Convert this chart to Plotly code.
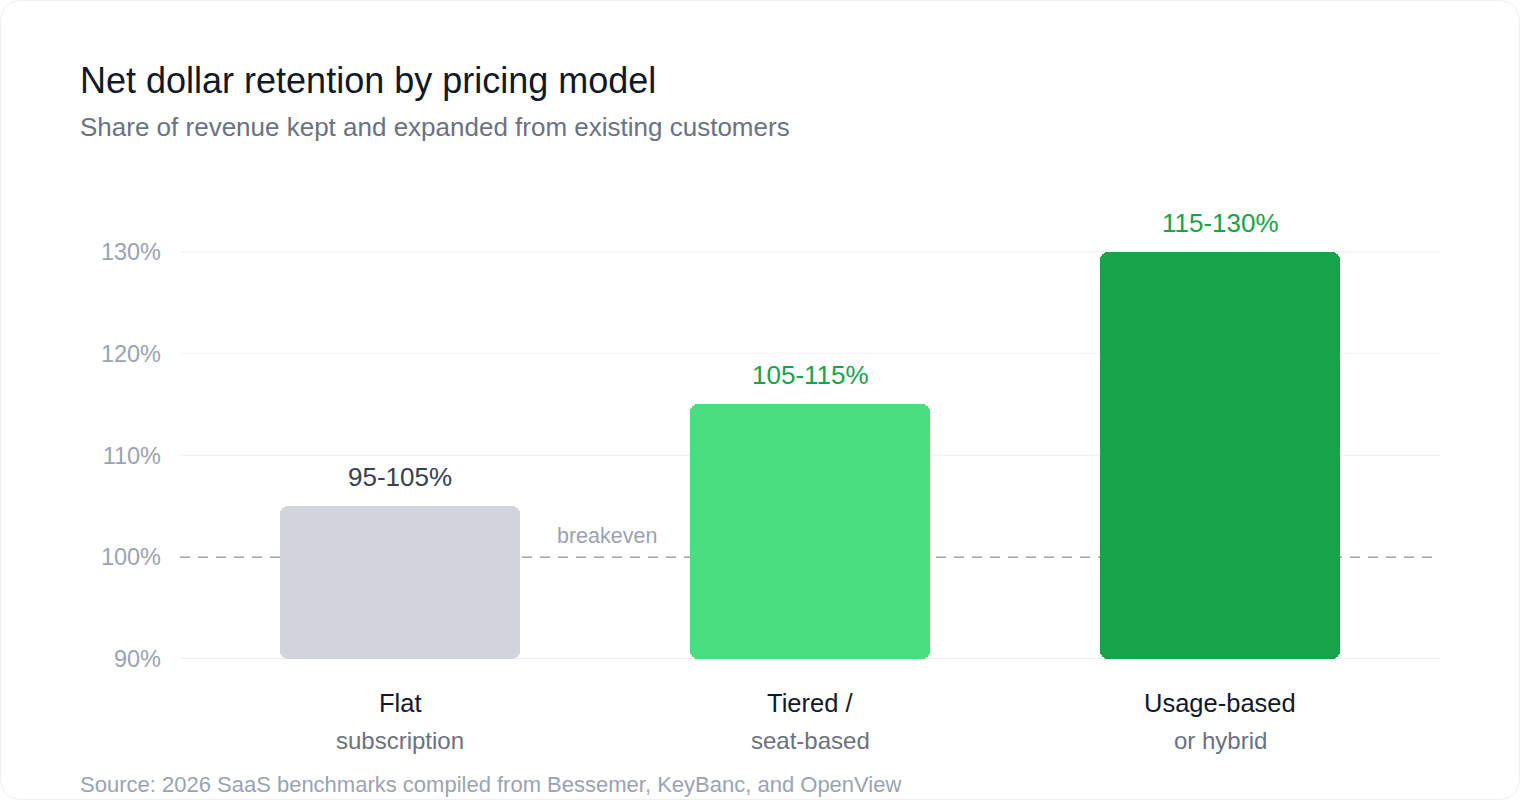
import plotly.graph_objects as go

# data
models = ["Flat", "Tiered /", "Usage-based"]
model_sub = ["subscription", "seat-based", "or hybrid"]
ndr_low = [95, 105, 115]
ndr_high = [105, 115, 130]
range_labels = ["95-105%", "105-115%", "115-130%"]
bar_colors = ["#d1d5db", "#4ade80", "#16a34a"]
label_colors = ["#374151", "#16a34a", "#16a34a"]
y_ticks = [90, 100, 110, 120, 130]
breakeven = 100
y_base = 90

FONT = "Liberation Sans, Arial, Helvetica, sans-serif"
W, H = 1520, 800
L, R, T, B = 180, 80, 211, 141
X_RANGE = [-0.5366, 2.5366]

xs = list(range(len(models)))

fig = go.Figure()

fig.add_trace(go.Bar(
    x=xs,
    y=[h - y_base for h in ndr_high],
    base=y_base,
    width=0.585,
    marker=dict(color=bar_colors, cornerradius=8, line=dict(width=0)),
    hoverinfo="skip",
    showlegend=False,
))

# grid lines (none at the breakeven level, that one is dashed)
for v in y_ticks:
    if v == breakeven:
        continue
    fig.add_shape(type="line", xref="x", yref="y", x0=X_RANGE[0], x1=X_RANGE[1],
                  y0=v, y1=v, layer="below",
                  line=dict(color="#e5e7eb" if v == y_base else "#f3f4f6", width=1.5))

# breakeven dashed line, under the bars
fig.add_shape(type="line", xref="x", yref="y", x0=X_RANGE[0], x1=X_RANGE[1],
              y0=breakeven, y1=breakeven, layer="below",
              line=dict(color="#9ca3af", width=1.5, dash="10px,8px"))

# value labels above bars
for x, top, txt, col in zip(xs, ndr_high, range_labels, label_colors):
    fig.add_annotation(x=x, y=top, text=txt, showarrow=False, yanchor="bottom",
                       yshift=12, font=dict(size=26, color=col, family=FONT))

# category labels (two lines)
for x, main, sub in zip(xs, models, model_sub):
    fig.add_annotation(x=x, y=0, yref="paper", text=main, showarrow=False,
                       yanchor="middle", yshift=-44,
                       font=dict(size=25.5, color="#111827", family=FONT))
    fig.add_annotation(x=x, y=0, yref="paper", text=sub, showarrow=False,
                       yanchor="middle", yshift=-81,
                       font=dict(size=24, color="#6b7280", family=FONT))

fig.add_annotation(x=0.505, y=breakeven, text="breakeven", showarrow=False,
                   yanchor="bottom", yshift=7,
                   font=dict(size=21.5, color="#9ca3af", family=FONT))

def px_x(p):
    return (p - L) / (W - L - R)

def px_y(p):
    return (H - B - p) / (H - T - B)

# title block and source
fig.add_annotation(x=px_x(78), y=px_y(80), xref="paper", yref="paper",
                   text="Net dollar retention by pricing model", showarrow=False,
                   xanchor="left", yanchor="middle",
                   font=dict(size=36, color="#111827", family=FONT))
fig.add_annotation(x=px_x(78), y=px_y(127), xref="paper", yref="paper",
                   text="Share of revenue kept and expanded from existing customers",
                   showarrow=False, xanchor="left", yanchor="middle",
                   font=dict(size=26, color="#6b7280", family=FONT))
fig.add_annotation(x=px_x(78), y=px_y(784), xref="paper", yref="paper",
                   text="Source: 2026 SaaS benchmarks compiled from Bessemer, KeyBanc, and OpenView",
                   showarrow=False, xanchor="left", yanchor="middle",
                   font=dict(size=22, color="#9ca3af", family=FONT))

# card outline with rounded corners
r = 22
x0, x1 = px_x(0.5), px_x(W - 0.5)
y0, y1 = px_y(H - 0.5), px_y(0.5)
rx = r / (W - L - R)
ry = r / (H - T - B)
card = (f"M {x0 + rx},{y1} L {x1 - rx},{y1} Q {x1},{y1} {x1},{y1 - ry} "
        f"L {x1},{y0 + ry} Q {x1},{y0} {x1 - rx},{y0} L {x0 + rx},{y0} "
        f"Q {x0},{y0} {x0},{y0 + ry} L {x0},{y1 - ry} Q {x0},{y1} {x0 + rx},{y1} Z")
fig.add_shape(type="path", path=card, xref="paper", yref="paper",
              line=dict(color="#eceef1", width=1), layer="above")

fig.update_layout(
    width=W, height=H,
    margin=dict(l=L, r=R, t=T, b=B),
    paper_bgcolor="white", plot_bgcolor="white",
    font=dict(family=FONT),
    bargap=0,
    xaxis=dict(range=X_RANGE, showticklabels=False, showgrid=False,
               zeroline=False, fixedrange=True),
    yaxis=dict(range=[y_base, 134], tickvals=y_ticks,
               ticktext=[f"{v}%" for v in y_ticks],
               tickfont=dict(size=23.5, color="#9ca3af", family=FONT),
               showgrid=False, zeroline=False, showline=False, ticks="",
               ticklabelstandoff=18, fixedrange=True),
)

fig.write_html("out.html", config={"displayModeBar": False},
               post_script="document.body.style.margin='0px';")
